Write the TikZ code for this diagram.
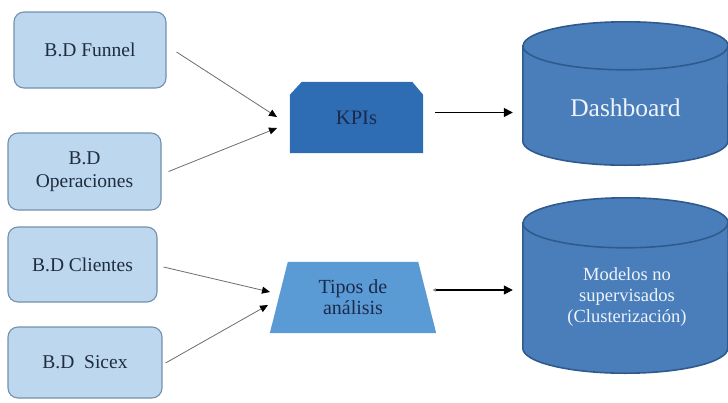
\documentclass[tikz,border=0pt]{standalone}
\usepackage{fontspec}
\setmainfont{Liberation Serif}
\newfontfamily\tnr{Liberation Serif}
\usetikzlibrary{arrows.meta,backgrounds}
\definecolor{boxfill}{HTML}{BDD7EE}
\definecolor{boxdraw}{HTML}{7490AE}
\definecolor{boxtext}{HTML}{1F2D3D}
\definecolor{kpifill}{HTML}{2E6DB4}
\definecolor{tipfill}{HTML}{5B9BD5}
\definecolor{navytext}{HTML}{1B2A4A}
\definecolor{cylfill}{HTML}{4A7EBB}
\definecolor{cyldraw}{HTML}{2F5B8C}
\definecolor{cyltext}{HTML}{EEF3FA}
\begin{document}
\begin{tikzpicture}[x=1pt,y=1pt,
  dbbox/.style={draw=boxdraw,line width=1.1pt,fill=boxfill,rounded corners=10pt,
    align=center,inner sep=0pt,text=boxtext,font=\tnr\fontsize{19.5}{23}\selectfont},
  holder/.style={inner sep=0pt,align=center},
  thinarr/.style={draw=gray!85!black,line width=0.8pt,-{Triangle[length=8pt,width=7pt,black]}},
  mainarr/.style={draw=black,line width=1.4pt,-{Triangle[length=9pt,width=9pt]}},
  cyl/.style={fill=cylfill,draw=cyldraw,line width=1.6pt},
  cyllbl/.style={align=center,text=cyltext}
]
\useasboundingbox (0,0) rectangle (728,-402);
% source boxes
\node[dbbox,minimum width=152pt,minimum height=76pt] (fun) at (90,-50) {B.D Funnel};
\node[dbbox,minimum width=153pt,minimum height=77pt] (ope) at (84.5,-171.5) {B.D\\Operaciones};
\node[dbbox,minimum width=149pt,minimum height=75pt] (cli) at (82.5,-264.5) {B.D Clientes};
\node[dbbox,minimum width=154pt,minimum height=71pt] (sic) at (85,-362.5) {B.D\ \ Sicex};
% KPIs
\node[holder,minimum width=133pt,minimum height=71pt,text=navytext,font=\tnr\fontsize{20.5}{22}\selectfont] (kpi) at (356.5,-117.5) {KPIs};
% Tipos de analisis
\node[holder,minimum width=166pt,minimum height=71pt,text=navytext,font=\tnr\fontsize{20}{21}\selectfont] (tip) at (353,-297.5) {Tipos de\\análisis};
% cylinders (holders)
\node[holder,minimum width=205pt,minimum height=143pt] (dash) at (625.5,-93.5) {};
\node[holder,minimum width=205pt,minimum height=175pt] (mod) at (625.5,-285.5) {};
\node[cyllbl,font=\tnr\fontsize{25.5}{28}\selectfont] (dashlbl) at ([yshift=-14.5pt]dash.center) {Dashboard};
\node[cyllbl,font=\tnr\fontsize{18.5}{21}\selectfont] (modlbl) at ([shift={(1.5pt,-11.5pt)}]mod.center) {Modelos no\\supervisados\\(Clusterización)};
\begin{scope}[on background layer]
  \fill[kpifill] ([yshift=-13pt]kpi.north west) -- ([xshift=12pt]kpi.north west)
    -- ([xshift=-11pt]kpi.north east) -- ([yshift=-13pt]kpi.north east)
    -- (kpi.south east) -- (kpi.south west) -- cycle;
  \fill[tipfill] ([xshift=18pt]tip.north west) -- ([xshift=-18pt]tip.north east)
    -- (tip.south east) -- (tip.south west) -- cycle;
  \path[cyl] ([yshift=-24pt]dash.north west) -- ([yshift=24pt]dash.south west)
    arc[start angle=180,end angle=360,x radius=102.5pt,y radius=24pt]
    -- ([yshift=-24pt]dash.north east)
    arc[start angle=0,end angle=180,x radius=102.5pt,y radius=24pt] -- cycle;
  \draw[cyldraw,line width=1.6pt] ([yshift=-24pt]dash.north west)
    arc[start angle=180,end angle=360,x radius=102.5pt,y radius=24pt];
  \path[cyl] ([yshift=-25pt]mod.north west) -- ([yshift=25pt]mod.south west)
    arc[start angle=180,end angle=360,x radius=102.5pt,y radius=25pt]
    -- ([yshift=-25pt]mod.north east)
    arc[start angle=0,end angle=180,x radius=102.5pt,y radius=25pt] -- cycle;
  \draw[cyldraw,line width=1.6pt] ([yshift=-25pt]mod.north west)
    arc[start angle=180,end angle=360,x radius=102.5pt,y radius=25pt];
\end{scope}
% arrow end points
\coordinate (k1) at (277,-117);
\coordinate (k2) at (277,-128);
\coordinate (t1) at (270,-292);
\coordinate (t2) at (268,-305);
\draw[thinarr] ([shift={(10pt,-2pt)}]fun.east) -- (k1);
\draw[thinarr] ([shift={(7pt,0pt)}]ope.east) -- (k2);
\draw[thinarr] ([shift={(6pt,-2.5pt)}]cli.east) -- (t1);
\draw[thinarr] ([shift={(3pt,-0.5pt)}]sic.east) -- (t2);
\draw[mainarr] ([shift={(12pt,5pt)}]kpi.east) -- ([shift={(-10pt,5pt)}]kpi.east -| dash.west);
\draw[mainarr,{Latex[length=4pt,width=4pt,gray]}-{Triangle[length=9pt,width=9pt]}] ([shift={(-4pt,7.5pt)}]tip.east) -- ([shift={(-10pt,7.5pt)}]tip.east -| mod.west);
\end{tikzpicture}
\end{document}
